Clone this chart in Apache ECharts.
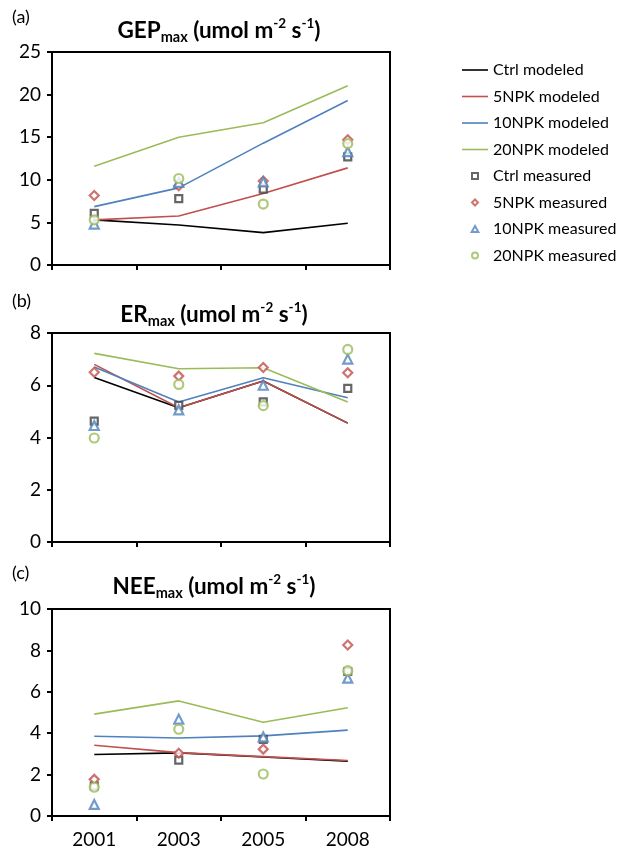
<!DOCTYPE html>
<html>
<head>
<meta charset="UTF-8">
<title>GEP ER NEE</title>
<script src="https://cdn.jsdelivr.net/npm/echarts@6/dist/echarts.min.js"></script>
<style>
html, body { margin: 0; padding: 0; background: #fff; }
#main { width: 619px; height: 852px; }
</style>
</head>
<body>
<div id="main"></div>
<script type="text/javascript">
var years = ['2001', '2003', '2005', '2008'];
var names = ['Ctrl modeled', '5NPK modeled', '10NPK modeled', '20NPK modeled',
             'Ctrl measured', '5NPK measured', '10NPK measured', '20NPK measured'];

// (a) GEPmax
var gepCtrlMod = [5.3, 4.7, 3.8, 4.9];
var gep5Mod = [5.3, 5.75, 8.4, 11.4];
var gep10Mod = [6.85, 9.05, 14.3, 19.3];
var gep20Mod = [11.6, 15.0, 16.7, 21.05];
var gepCtrlMeas = [6.05, 7.8, 8.9, 12.7];
var gep5Meas = [8.15, 9.3, 9.85, 14.7];
var gep10Meas = [4.8, 9.7, 9.75, 13.3];
var gep20Meas = [5.3, 10.15, 7.15, 14.25];

// (b) ERmax
var erCtrlMod = [6.3, 5.14, 6.16, 4.55];
var er5Mod = [6.8, 5.14, 6.16, 4.55];
var er10Mod = [6.7, 5.36, 6.29, 5.52];
var er20Mod = [7.22, 6.63, 6.67, 5.36];
var erCtrlMeas = [4.63, 5.23, 5.36, 5.88];
var er5Meas = [6.5, 6.35, 6.68, 6.48];
var er10Meas = [4.46, 5.06, 6.0, 7.0];
var er20Meas = [3.98, 6.03, 5.22, 7.37];

// (c) NEEmax
var neeCtrlMod = [2.97, 3.05, 2.85, 2.65];
var nee5Mod = [3.42, 3.06, 2.87, 2.68];
var nee10Mod = [3.85, 3.77, 3.87, 4.15];
var nee20Mod = [4.92, 5.56, 4.53, 5.23];
var neeCtrlMeas = [1.45, 2.7, 3.7, 6.98];
var nee5Meas = [1.77, 3.03, 3.23, 8.26];
var nee10Meas = [0.56, 4.68, 3.82, 6.66];
var nee20Meas = [1.39, 4.19, 2.03, 7.02];

var FONT = 'Lato';
var lineColors = ['#000000', '#C0504D', '#4F81BD', '#9BBB59'];
var markColors = ['#404040', '#C0504D', '#4F81BD', '#9BBB59'];
var markSymbols = ['rect', 'diamond', 'triangle', 'circle'];
var markSizes = [7, 9, 9, 9];
// legend icons (keep aspect so the marker icons stay small)
var legendIcons = [
  'path://M0,0h26v1.6h-26z', 'path://M0,0h26v1.6h-26z', 'path://M0,0h26v1.6h-26z', 'path://M0,0h26v1.6h-26z',
  'path://M0,0h10v10h-10z', 'path://M5,0L10,5L5,10L0,5z', 'path://M5,0L10,9L0,9z', 'circle'
];

var panels = [
  { mod: [gepCtrlMod, gep5Mod, gep10Mod, gep20Mod], meas: [gepCtrlMeas, gep5Meas, gep10Meas, gep20Meas],
    max: 25, interval: 5, top: 52, bottom: 587, title: 'GEP', tag: '(a)', tagTop: 8, titleTop: 17, titleX: 219 },
  { mod: [erCtrlMod, er5Mod, er10Mod, er20Mod], meas: [erCtrlMeas, er5Meas, er10Meas, er20Meas],
    max: 8, interval: 2, top: 333, bottom: 310, title: 'ER', tag: '(b)', tagTop: 292, titleTop: 301, titleX: 214 },
  { mod: [neeCtrlMod, nee5Mod, nee10Mod, nee20Mod], meas: [neeCtrlMeas, nee5Meas, nee10Meas, nee20Meas],
    max: 10, interval: 2, top: 609, bottom: 36, title: 'NEE', tag: '(c)', tagTop: 564, titleTop: 573, titleX: 214 }
];

var grids = [], xAxes = [], yAxes = [], series = [], titles = [];
panels.forEach(function (p, i) {
  grids.push({ left: 52, right: 229, top: p.top, bottom: p.bottom, show: true,
               borderColor: '#000', borderWidth: 2, backgroundColor: 'transparent' });
  xAxes.push({
    type: 'category', gridIndex: i, data: years, boundaryGap: true,
    axisLine: { lineStyle: { color: '#000', width: 2 } },
    axisTick: { show: true, length: 5, lineStyle: { color: '#000', width: 2 } },
    axisLabel: { show: i === 2, color: '#000', fontFamily: FONT, fontSize: 19, margin: 14 },
    splitLine: { show: false }
  });
  yAxes.push({
    type: 'value', gridIndex: i, min: 0, max: p.max, interval: p.interval,
    axisLine: { show: true, lineStyle: { color: '#000', width: 2 } },
    axisTick: { show: true, length: 5, lineStyle: { color: '#000', width: 2 } },
    axisLabel: { color: '#000', fontFamily: FONT, fontSize: 19, margin: 11 },
    splitLine: { show: false }
  });
  titles.push({
    text: p.title + '{sub|max} (umol m{sup|-2} s{sup|-1})',
    left: p.titleX, top: p.titleTop, textAlign: 'center', padding: 0,
    textStyle: {
      fontFamily: FONT, fontSize: 22.5, fontWeight: 'bold', color: '#000', lineHeight: 28,
      rich: {
        sub: { fontFamily: FONT, fontSize: 14.5, fontWeight: 'bold', color: '#000', verticalAlign: 'bottom', lineHeight: 21 },
        sup: { fontFamily: FONT, fontSize: 13.5, fontWeight: 'bold', color: '#000', verticalAlign: 'top', lineHeight: 15 }
      }
    }
  });
  titles.push({
    text: p.tag, left: 12, top: p.tagTop, padding: 0,
    textStyle: { fontFamily: FONT, fontSize: 18, fontWeight: 'normal', color: '#000' }
  });
  for (var k = 0; k < 4; k++) {
    series.push({
      name: names[k], type: 'line', xAxisIndex: i, yAxisIndex: i, data: p.mod[k],
      symbol: 'none', lineStyle: { color: lineColors[k], width: 1.6 }, itemStyle: { color: lineColors[k] },
      z: 2, animation: false
    });
  }
  for (var m = 0; m < 4; m++) {
    series.push({
      name: names[m + 4], type: 'scatter', xAxisIndex: i, yAxisIndex: i, data: p.meas[m],
      symbol: markSymbols[m], symbolSize: markSizes[m],
      itemStyle: { color: '#fff', borderColor: markColors[m], borderWidth: 2.2 },
      z: 3, animation: false
    });
  }
});

var legendData = names.map(function (n, j) {
  return { name: n, icon: legendIcons[j] };
});

var myChart = echarts.init(document.getElementById('main'));
var option = {
  animation: false,
  backgroundColor: '#fff',
  title: titles,
  legend: {
    data: legendData, orient: 'vertical', left: 457, top: 56,
    itemWidth: 26, itemHeight: 6, itemGap: 8.5,
    textStyle: { fontFamily: FONT, fontSize: 16, color: '#000', lineHeight: 18 },
    selectedMode: false
  },
  grid: grids,
  xAxis: xAxes,
  yAxis: yAxes,
  series: series
};
myChart.setOption(option);
</script>
</body>
</html>
